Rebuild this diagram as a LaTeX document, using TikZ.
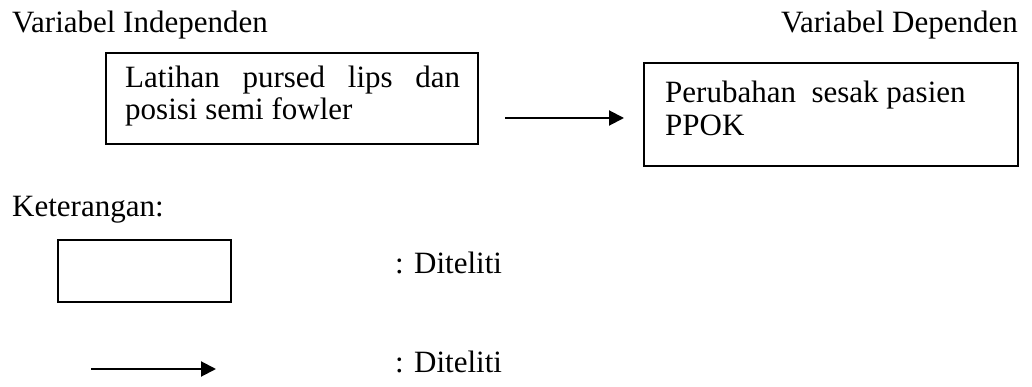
\documentclass[tikz,border=0pt]{standalone}
\usepackage{fontspec}
\setmainfont{Liberation Serif}
\usetikzlibrary{arrows.meta}
\begin{document}
\begin{tikzpicture}[x=1pt,y=-1pt,
  frame/.style={draw, line width=1.8pt, inner sep=0pt, anchor=north west},
  txt/.style={font=\fontsize{31}{32}\selectfont, inner sep=0pt, anchor=base west},
  link/.style={line width=2pt, -{Triangle[length=15pt,width=15pt]}}]
\useasboundingbox (0,0) rectangle (1032,387);

% column headings
\node[txt] (indep) at (12,33) {Variabel Independen};
\node[txt, anchor=base east] (dep) at (1018,33) {Variabel Dependen};

% independent variable box
\node[frame, minimum width=372pt, minimum height=91pt] (b1) at (105,52) {};
\node[txt] (b1l1) at (125,88) {\makebox[335pt][s]{Latihan pursed lips dan}};
\node[txt] (b1l2) at (125,119.5) {posisi semi fowler};

% dependent variable box
\node[frame, minimum width=374pt, minimum height=103pt] (b2) at (643,62) {};
\node[txt] (b2l1) at (665,103) {Perubahan\ \ sesak pasien};
\node[txt] (b2l2) at (665,136) {PPOK};

% link between the variables
\coordinate (a1) at (505,118);
\coordinate (a2) at (624,118);
\draw[link] (a1) -- (a2);

% legend
\node[txt] (ket) at (12,217) {Keterangan:};
\node[frame, minimum width=173pt, minimum height=62pt] (lbox) at (57,239) {};
\node[txt] (lbt) at (395,273) {: Diteliti};
\coordinate (l1) at (91,369);
\coordinate (l2) at (216,369);
\draw[link] (l1) -- (l2);
\node[txt] (lat) at (395,372) {: Diteliti};
\end{tikzpicture}
\end{document}
